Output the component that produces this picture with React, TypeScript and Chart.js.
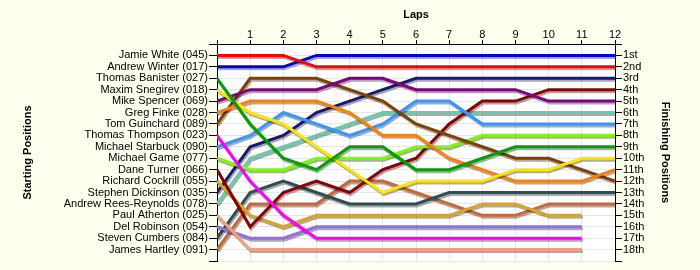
import React, { useEffect, useRef } from 'react';
import { Chart, registerables } from 'chart.js';

Chart.register(...registerables);

// ---- data ----
const laps = [0, 1, 2, 3, 4, 5, 6, 7, 8, 9, 10, 11, 12];

const startLabels = [
  'Jamie White (045)',
  'Andrew Winter (017)',
  'Thomas Banister (027)',
  'Maxim Snegirev (018)',
  'Mike Spencer (069)',
  'Greg Finke (028)',
  'Tom Guinchard (089)',
  'Thomas Thompson (023)',
  'Michael Starbuck (090)',
  'Michael Game (077)',
  'Dane Turner (066)',
  'Richard Cockrill (055)',
  'Stephen Dickinson (035)',
  'Andrew Rees-Reynolds (078)',
  'Paul Atherton (025)',
  'Del Robinson (054)',
  'Steven Cumbers (084)',
  'James Hartley (091)',
];

const finishLabels = [
  '1st', '2nd', '3rd', '4th', '5th', '6th', '7th', '8th', '9th',
  '10th', '11th', '12th', '13th', '14th', '15th', '16th', '17th', '18th',
];

// position at each lap (index = lap number, 0 = start)
const jamieWhite = [1, 1, 1, 2, 2, 2, 2, 2, 2, 2, 2, 2, 2];
const andrewWinter = [2, 2, 2, 1, 1, 1, 1, 1, 1, 1, 1, 1, 1];
const thomasBanister = [3, 7, 10, 11, 9, 9, 11, 11, 10, 9, 9, 9, 9];
const maximSnegirev = [4, 6, 7, 9, 11, 13, 12, 12, 12, 11, 11, 10, 10];
const mikeSpencer = [5, 4, 4, 4, 3, 3, 4, 4, 4, 4, 5, 5, 5];
const gregFinke = [6, 5, 5, 5, 6, 8, 8, 10, 11, 12, 12, 12, 11];
const tomGuinchard = [7, 3, 3, 3, 4, 5, 7, 8, 9, 10, 10, 11, 12];
const thomasThompson = [8, 12, 15, 17, 17, 17, 17, 17, 17, 17, 17, 17];
const michaelStarbuck = [9, 8, 6, 7, 8, 7, 5, 5, 7, 7, 7, 7, 7];
const michaelGame = [10, 11, 11, 10, 10, 10, 9, 9, 8, 8, 8, 8, 8];
const daneTurner = [11, 16, 13, 12, 13, 11, 10, 7, 5, 5, 4, 4, 4];
const richardCockrill = [12, 15, 16, 15, 15, 15, 15, 15, 14, 14, 15, 15];
const stephenDickinson = [13, 9, 8, 6, 5, 4, 3, 3, 3, 3, 3, 3, 3];
const andrewReesReynolds = [14, 10, 9, 8, 7, 6, 6, 6, 6, 6, 6, 6, 6];
const paulAtherton = [15, 18, 18, 18, 18, 18, 18, 18, 18, 18, 18, 18];
const delRobinson = [16, 17, 17, 16, 16, 16, 16, 16, 16, 16, 16, 16];
const stevenCumbers = [17, 13, 12, 13, 14, 14, 14, 13, 13, 13, 13, 13, 13];
const jamesHartley = [18, 14, 14, 14, 12, 12, 13, 14, 15, 15, 14, 14, 14];

const series = [
  jamieWhite, andrewWinter, thomasBanister, maximSnegirev, mikeSpencer,
  gregFinke, tomGuinchard, thomasThompson, michaelStarbuck, michaelGame,
  daneTurner, richardCockrill, stephenDickinson, andrewReesReynolds,
  paulAtherton, delRobinson, stevenCumbers, jamesHartley,
];

// ---- styles ----
const colors = [
  '#FF0000', '#0000DD', '#00A000', '#FFE600', '#800080',
  '#FF8000', '#804000', '#FF00FF', '#3399FF', '#7CFC00',
  '#8B0000', '#DAA520', '#191970', '#66CDAA',
  '#F4A07A', '#9370DB', '#2F4F4F', '#CC6633',
];

const FONT = "'Liberation Sans', Arial, sans-serif";

const bgPlugin = {
  id: 'bg',
  beforeDraw(chart: any) {
    const { ctx, chartArea: a, width, height } = chart;
    ctx.save();
    ctx.fillStyle = '#FFFFF0';
    ctx.fillRect(0, 0, width, height);
    ctx.fillStyle = '#FFFFFF';
    ctx.fillRect(a.left, a.top, a.right - a.left, a.bottom - a.top);
    ctx.restore();
  },
};

const shadowPlugin = {
  id: 'shadow',
  beforeDatasetsDraw(chart: any) {
    const ctx = chart.ctx;
    ctx.save();
    ctx.shadowColor = 'rgba(0,0,0,0.33)';
    ctx.shadowOffsetX = 1;
    ctx.shadowOffsetY = 2;
    ctx.shadowBlur = 0;
  },
  afterDatasetsDraw(chart: any) {
    chart.ctx.restore();
  },
};

export default function App() {
  const ref = useRef<HTMLCanvasElement>(null);

  useEffect(() => {
    document.body.style.margin = '0';
    const canvas = ref.current;
    if (!canvas) return;

    const datasets = series.map((s, i) => ({
      label: startLabels[i],
      data: s.map((p, lap) => ({ x: laps[lap], y: p })),
      borderColor: colors[i],
      backgroundColor: colors[i],
      borderWidth: 3,
      pointRadius: 0,
      pointHoverRadius: 0,
      tension: 0,
      fill: false,
      yAxisID: 'y',
    }));

    const chart = new Chart(canvas, {
      type: 'line',
      data: { datasets },
      options: {
        responsive: false,
        animation: false,
        events: [],
        layout: { padding: { left: 0, right: 0, top: 0, bottom: 9 } },
        plugins: {
          legend: { display: false },
          tooltip: { enabled: false },
          title: { display: false },
        },
        scales: {
          x: {
            type: 'linear',
            position: 'top',
            min: 0,
            max: 12,
            afterFit(scale: any) {
              scale.height = 44;
            },
            ticks: {
              stepSize: 1,
              autoSkip: false,
              maxRotation: 0,
              padding: 0,
              color: '#000',
              font: { family: FONT, size: 11, lineHeight: 1 },
              callback: (v: any) => (v === 0 ? '' : String(v)),
            },
            grid: {
              color: '#E6E6E6',
              tickColor: '#000',
              tickLength: 4,
              lineWidth: 1,
            },
            border: { color: '#000', width: 1 },
            title: {
              display: true,
              text: 'Laps',
              color: '#000',
              font: { family: FONT, size: 11, weight: 'bold' },
              padding: { top: 8.4, bottom: 0 },
            },
          },
          y: {
            type: 'linear',
            position: 'left',
            min: 0,
            max: 19,
            reverse: true,
            afterFit(scale: any) {
              scale.width = 217;
            },
            ticks: {
              stepSize: 1,
              autoSkip: false,
              padding: 1,
              color: '#000',
              font: { family: FONT, size: 11 },
              callback: (v: any) =>
                v >= 1 && v <= startLabels.length ? startLabels[v - 1] : '',
            },
            grid: {
              color: '#E6E6E6',
              tickColor: '#000',
              tickLength: 8,
              lineWidth: 1,
            },
            border: { color: '#000', width: 1 },
            title: {
              display: true,
              text: 'Starting Positions',
              color: '#000',
              font: { family: FONT, size: 11, weight: 'bold' },
              padding: { top: 21.4, bottom: 0 },
            },
          },
          y2: {
            type: 'linear',
            position: 'right',
            min: 0,
            max: 19,
            reverse: true,
            afterFit(scale: any) {
              scale.width = 85;
            },
            ticks: {
              stepSize: 1,
              autoSkip: false,
              padding: 1,
              color: '#000',
              font: { family: FONT, size: 11 },
              callback: (v: any) =>
                v >= 1 && v <= finishLabels.length ? finishLabels[v - 1] : '',
            },
            grid: {
              drawOnChartArea: false,
              tickColor: '#000',
              tickLength: 7,
              lineWidth: 1,
            },
            border: { color: '#000', width: 1 },
            title: {
              display: true,
              text: 'Finishing Positions',
              color: '#000',
              font: { family: FONT, size: 11, weight: 'bold' },
              padding: { top: 28.4, bottom: 0 },
            },
          },
        },
      } as any,
      plugins: [bgPlugin, shadowPlugin],
    });

    return () => chart.destroy();
  }, []);

  return (
    <div style={{ position: 'absolute', left: 0, top: 0, width: 700, height: 270 }}>
      <canvas ref={ref} width={700} height={270} />
    </div>
  );
}
